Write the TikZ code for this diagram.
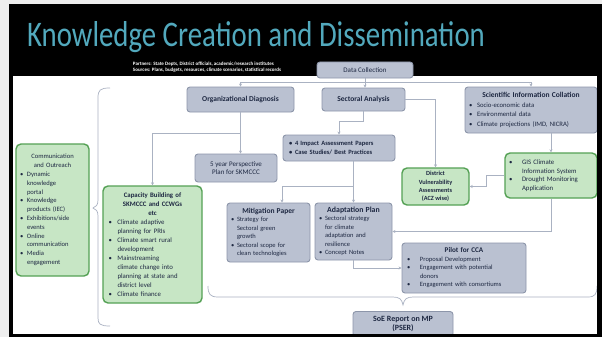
\documentclass[tikz,border=0pt]{standalone}
\usepackage{fontspec}
\setmainfont{Carlito}
\usepackage{xcolor}
\usepackage{graphicx}
\usetikzlibrary{arrows.meta, calc, positioning}

\definecolor{titleteal}{HTML}{52A9BD}
\definecolor{boxfill}{HTML}{BAC1D1}
\definecolor{boxedge}{HTML}{8D96AA}
\definecolor{boxtext}{HTML}{1E2842}
\definecolor{greenfill}{HTML}{C7E6C5}
\definecolor{greenedge}{HTML}{55A155}
\definecolor{linegray}{HTML}{AAB2C2}
\definecolor{pagegray}{HTML}{EEEEEE}

% bullet, continuation indent, centred bold heading line
\newcommand{\kbul}[1][7pt]{\makebox[#1][l]{\textbullet}}
\newcommand{\kind}[1][7pt]{\hspace*{#1}}
\newcommand{\ktitle}[1]{\hfill\textbf{#1}\hfill\null\par}

\begin{document}
\begin{tikzpicture}[
    x=1pt, y=-1pt,
    >=Stealth,
    gbox/.style={draw=boxedge, fill=boxfill, rounded corners=3pt, line width=0.9pt,
        text=boxtext, inner sep=2pt, align=center, font=\fontsize{7}{8.5}\selectfont},
    grbox/.style={draw=greenedge, fill=greenfill, rounded corners=5pt, line width=1.4pt,
        text=boxtext, inner sep=2pt, align=center, font=\fontsize{6.6}{8.8}\selectfont},
    conn/.style={draw=linegray, line width=0.7pt, -{Stealth[length=3pt,width=3pt]}},
    brace/.style={draw=linegray, line width=0.7pt},
]

%------------------------------------------------------------
% slide frame: black header band, white panel
%------------------------------------------------------------
\fill[pagegray] (0,0) rectangle (602,337);
\useasboundingbox (0,0) rectangle (602,337);
\fill[black] (9,4) rectangle (602,337);
\fill[white] (13,76) rectangle (597,334);

\node[anchor=base west, text=titleteal, font=\fontsize{36}{36}\selectfont, inner sep=0pt]
    (title) at (27,47) {\scalebox{0.8}[1]{Knowledge Creation and Dissemination}};

\node[text=white, font=\bfseries\fontsize{5}{6}\selectfont, align=left, inner sep=0pt]
    (partners) at (207,67)
    {Partners: State Depts, District officials, academic/research institutes\\
     Sources: Plans, budgets, resources, climate scenarios, statistical records};

%============================================================
%  top row
%============================================================
\node[gbox, minimum width=96pt, minimum height=16pt] (dc) at (365,70) {Data Collection};

\node[gbox, font=\bfseries\fontsize{7.5}{9}\selectfont, minimum width=107pt, minimum height=25pt]
    (od) at (240.5,99.5) {Organizational Diagnosis};
\node[gbox, font=\bfseries\fontsize{7.5}{9}\selectfont, minimum width=83pt, minimum height=23pt]
    (sa) at (363.5,99.5) {Sectoral Analysis};
\node[gbox, align=left, text width=124pt, minimum width=132pt, minimum height=46pt,
    font=\fontsize{6.7}{9.5}\selectfont]
    (sic) at (531,110)
    {\ktitle{\fontsize{7.5}{9}\selectfont Scientific Information Collation}%
     \kbul[8pt]Socio-economic data\\
     \kbul[8pt]Environmental data\\
     \kbul[8pt]Climate projections (IMD, NICRA)};

%============================================================
%  second row
%============================================================
\node[gbox, align=left, text width=100pt, minimum width=112pt, minimum height=26pt,
    font=\bfseries\fontsize{6.5}{8.5}\selectfont]
    (ia) at (339,148)
    {\kbul[6pt]4 Impact Assessment Papers\\
     \kbul[6pt]Case Studies/ Best Practices};
\node[gbox, minimum width=82pt, minimum height=28pt] (pp) at (236,168)
    {5 year Perspective\\Plan for SKMCCC};
\node[grbox, font=\bfseries\fontsize{6.3}{8.4}\selectfont, minimum width=67pt, minimum height=37pt]
    (dva) at (435.5,186.5) {District\\Vulnerability\\Assessments\\(ACZ wise)};
\node[grbox, align=left, text width=84pt, minimum width=92pt, minimum height=45pt,
    font=\fontsize{6.8}{8.6}\selectfont]
    (gis) at (551,175.5)
    {\kbul[13pt]GIS Climate\\
     \kind[13pt]Information System\\
     \kbul[13pt]Drought Monitoring\\
     \kind[13pt]Application};

%============================================================
%  left column (green)
%============================================================
\node[grbox, align=left, text width=65pt, minimum width=73pt, minimum height=132pt]
    (co) at (52.5,210)
    {\hfill Communication\hfill\null\par
     \hfill and Outreach\hfill\null\par
     \kbul Dynamic\\ \kind knowledge\\ \kind portal\\
     \kbul Knowledge\\ \kind products (IEC)\\
     \kbul Exhibitions/side\\ \kind events\\
     \kbul Online\\ \kind communication\\
     \kbul Media\\ \kind engagement};
\node[grbox, align=left, text width=88pt, minimum width=99pt, minimum height=117pt,
    font=\fontsize{6.8}{9}\selectfont]
    (cb) at (152.5,244.5)
    {\ktitle{Capacity Building of}\ktitle{SKMCCC and CCWGs}\ktitle{etc}%
     \kbul[9pt]Climate adaptive\\ \kind[9pt]planning for PRIs\\
     \kbul[9pt]Climate smart rural\\ \kind[9pt]development\\
     \kbul[9pt]Mainstreaming\\ \kind[9pt]climate change into\\
     \kind[9pt]planning at state and\\ \kind[9pt]district level\\
     \kbul[9pt]Climate finance};

%============================================================
%  papers, plan, pilot
%============================================================
\node[gbox, align=left, text width=75pt, minimum width=83pt, minimum height=59pt,
    font=\fontsize{6.5}{8.5}\selectfont]
    (mp) at (268.5,232.5)
    {\ktitle{\fontsize{7.5}{8.5}\selectfont Mitigation Paper}%
     \kbul[6pt]Strategy for\\ \kind[6pt]Sectoral green\\ \kind[6pt]growth\\
     \kbul[6pt]Sectoral scope for\\ \kind[6pt]clean technologies};
\node[gbox, align=left, text width=69pt, minimum width=77pt, minimum height=57pt,
    font=\fontsize{6.5}{8.5}\selectfont]
    (ap) at (353.5,231.5)
    {\ktitle{\fontsize{7.8}{8.5}\selectfont Adaptation Plan}%
     \kbul[6pt]Sectoral strategy\\ \kind[6pt]for climate\\ \kind[6pt]adaptation and\\
     \kind[6pt]resilience\\
     \kbul[6pt]Concept Notes};
\node[gbox, align=left, text width=114pt, minimum width=124pt, minimum height=50pt,
    font=\fontsize{6.5}{8.5}\selectfont]
    (pilot) at (464,268)
    {\ktitle{\fontsize{7.2}{8.5}\selectfont Pilot for CCA}%
     \kbul[13pt]Proposal Development\\
     \kbul[13pt]Engagement with potential\\ \kind[13pt]donors\\
     \kbul[13pt]Engagement with consortiums};
\node[gbox, font=\bfseries\fontsize{8}{9.5}\selectfont, minimum width=100pt, minimum height=25pt]
    (soe) at (403,324) {SoE Report on MP\\(PSER)};

%============================================================
%  connectors
%============================================================
\coordinate (split) at (dc.south |- 0,82);
\draw[conn] (dc.south) -- (dc.south |- sa.north);
\draw[conn] (split) -| (od.north);
\draw[conn] (split) -| (sic.north);

\draw[conn] (od.south) -- (od.south |- pp.north);
\coordinate (odsplit) at (od.south |- 0,133);
\draw[conn] (odsplit) -| (cb.north);

\draw[conn] (sa.south) -- (sa.south |- 0,121) -| (ia.north);
\draw[conn] (sa.east) -| (dva.north);

\draw[conn] (sic.south -| gis.north) -- (gis.north);
\draw[conn] (gis.west) -- ++(-18,0) |- (dva.east);
\draw[conn] (gis.south) |- (ap.east);

\draw[conn] (ia.south -| ap.north) -- (ap.north);
\coordinate (iasplit) at (ap.north |- 0,186);
\draw[conn] (iasplit) -| ($(mp.north)+(13.5,0)$);
\draw[conn] (ap.south) |- (pilot.west);

% braces
\coordinate (cotip) at (93,208);
\draw[brace] (110,88) .. controls (100,88) and (98,90) .. (98,98) -- (98,200)
    .. controls (98,205) and (96,207) .. (cotip)
    .. controls (96,209) and (98,211) .. (98,216) -- (98,318)
    .. controls (98,324) and (100,326) .. (110,326);
\coordinate (soetip) at (403,305);
\draw[brace] (208,286) .. controls (208,294) and (210,297) .. (218,297) -- (393,297)
    .. controls (399,297) and (402,299) .. (soetip)
    .. controls (404,299) and (407,297) .. (413,297) -- (588,297)
    .. controls (595,297) and (597,294) .. (597,286);

% frame edges drawn over the boxes
\fill[black] (9,334) rectangle (602,337);
\fill[black] (597,76) rectangle (602,337);

\end{tikzpicture}
\end{document}
